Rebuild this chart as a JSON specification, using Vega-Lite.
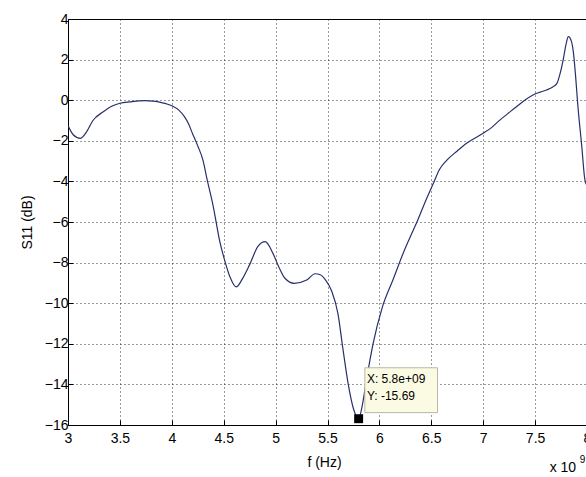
{
  "$schema": "https://vega.github.io/schema/vega-lite/v6.json",
  "width": 519,
  "height": 406,
  "autosize": "none",
  "padding": {"left": 68, "top": 19, "right": 0, "bottom": 52},
  "background": "white",
  "config": {
    "view": {"stroke": "#000", "strokeWidth": 1},
    "font": "Liberation Sans",
    "axis": {
      "labelFont": "Liberation Sans",
      "titleFont": "Liberation Sans",
      "labelFontSize": 14,
      "titleFontSize": 14,
      "titleFontWeight": "normal",
      "labelColor": "#000",
      "titleColor": "#000",
      "domainColor": "#000",
      "tickColor": "#000",
      "gridColor": "#111",
      "gridDash": [1, 3],
      "gridOpacity": 0.85,
      "gridWidth": 1
    }
  },
  "datasets": {
    "curve": [
      {"f": 3.00, "s": -1.25}, {"f": 3.05, "s": -1.70}, {"f": 3.12, "s": -1.88}, {"f": 3.18, "s": -1.55},
      {"f": 3.24, "s": -1.00}, {"f": 3.34, "s": -0.57}, {"f": 3.42, "s": -0.30}, {"f": 3.50, "s": -0.15},
      {"f": 3.60, "s": -0.08}, {"f": 3.74, "s": -0.02}, {"f": 3.82, "s": -0.05}, {"f": 3.90, "s": -0.12},
      {"f": 3.96, "s": -0.20}, {"f": 4.01, "s": -0.30}, {"f": 4.07, "s": -0.50}, {"f": 4.12, "s": -0.80},
      {"f": 4.16, "s": -1.15}, {"f": 4.20, "s": -1.65}, {"f": 4.25, "s": -2.25}, {"f": 4.30, "s": -2.95},
      {"f": 4.34, "s": -3.90}, {"f": 4.40, "s": -5.25}, {"f": 4.46, "s": -6.90}, {"f": 4.51, "s": -7.90},
      {"f": 4.56, "s": -8.70}, {"f": 4.62, "s": -9.20}, {"f": 4.68, "s": -8.80}, {"f": 4.75, "s": -8.10},
      {"f": 4.83, "s": -7.20}, {"f": 4.90, "s": -6.97}, {"f": 4.97, "s": -7.50}, {"f": 5.03, "s": -8.20},
      {"f": 5.09, "s": -8.77}, {"f": 5.18, "s": -9.02}, {"f": 5.30, "s": -8.86}, {"f": 5.38, "s": -8.55},
      {"f": 5.43, "s": -8.60}, {"f": 5.48, "s": -8.85}, {"f": 5.54, "s": -9.40}, {"f": 5.60, "s": -10.50},
      {"f": 5.65, "s": -12.30}, {"f": 5.70, "s": -14.00}, {"f": 5.75, "s": -15.20}, {"f": 5.80, "s": -15.69},
      {"f": 5.84, "s": -14.90}, {"f": 5.87, "s": -13.95}, {"f": 5.94, "s": -11.98}, {"f": 6.03, "s": -10.17},
      {"f": 6.13, "s": -8.86}, {"f": 6.24, "s": -7.40}, {"f": 6.30, "s": -6.70}, {"f": 6.37, "s": -5.90},
      {"f": 6.45, "s": -4.90}, {"f": 6.52, "s": -4.09}, {"f": 6.58, "s": -3.40}, {"f": 6.65, "s": -2.95},
      {"f": 6.75, "s": -2.50}, {"f": 6.84, "s": -2.12}, {"f": 7.00, "s": -1.63}, {"f": 7.08, "s": -1.35},
      {"f": 7.16, "s": -0.98}, {"f": 7.24, "s": -0.65}, {"f": 7.32, "s": -0.32}, {"f": 7.40, "s": 0.00},
      {"f": 7.48, "s": 0.26}, {"f": 7.55, "s": 0.40}, {"f": 7.61, "s": 0.50}, {"f": 7.67, "s": 0.65},
      {"f": 7.71, "s": 0.83}, {"f": 7.74, "s": 1.30}, {"f": 7.77, "s": 1.98}, {"f": 7.80, "s": 2.80},
      {"f": 7.82, "s": 3.13}, {"f": 7.85, "s": 2.90}, {"f": 7.87, "s": 2.31}, {"f": 7.89, "s": 1.20},
      {"f": 7.91, "s": -0.15}, {"f": 7.95, "s": -2.29}, {"f": 7.98, "s": -3.93}, {"f": 8.00, "s": -4.20}
    ],
    "tip": [{"f": 5.8, "s": -15.69, "x1": 5.86, "x2": 6.56, "y1": -13.18, "y2": -15.39}],
    "tiptext": [
      {"f": 5.88, "s": -13.95, "t": "X: 5.8e+09"},
      {"f": 5.88, "s": -14.75, "t": "Y: -15.69"}
    ],
    "exp": [
      {"f": 7.64, "s": -18.3, "t": "x 10", "size": 14},
      {"f": 7.93, "s": -17.85, "t": "9", "size": 10}
    ]
  },
  "layer": [
    {
      "data": {"name": "curve"},
      "mark": {"type": "line", "color": "#28306b", "strokeWidth": 1.2, "clip": true, "interpolate": "monotone"},
      "encoding": {
        "x": {
          "field": "f", "type": "quantitative",
          "scale": {"domain": [3, 8], "nice": false, "zero": false},
          "axis": {
            "values": [3, 3.5, 4, 4.5, 5, 5.5, 6, 6.5, 7, 7.5, 8],
            "format": "~g",
            "tickSize": -5,
            "labelPadding": 11,
            "labelFlush": false,
            "labelOverlap": false,
            "title": "f (Hz)",
            "titleX": 256,
            "titleY": 41,
            "titleBaseline": "alphabetic",
            "titleAnchor": null,
            "titleAlign": "center"
          }
        },
        "y": {
          "field": "s", "type": "quantitative",
          "scale": {"domain": [-16, 4], "nice": false, "zero": false},
          "axis": {
            "values": [-16, -14, -12, -10, -8, -6, -4, -2, 0, 2, 4],
            "tickSize": -5,
            "labelPadding": 5,
            "labelFlush": false,
            "labelOverlap": false,
            "title": "S11 (dB)",
            "titleX": -37,
            "titleY": 203,
            "titleAngle": -90,
            "titleBaseline": "alphabetic",
            "titleAlign": "center",
            "titleAnchor": null
          }
        }
      }
    },
    {
      "data": {"name": "tip"},
      "mark": {"type": "rect", "fill": "#fbfbe3", "stroke": "#b8b8a8", "strokeWidth": 1},
      "encoding": {
        "x": {"field": "x1", "type": "quantitative"},
        "x2": {"field": "x2"},
        "y": {"field": "y1", "type": "quantitative"},
        "y2": {"field": "y2"}
      }
    },
    {
      "data": {"name": "tip"},
      "mark": {"type": "square", "color": "#000", "size": 80, "opacity": 1, "filled": true},
      "encoding": {
        "x": {"field": "f", "type": "quantitative"},
        "y": {"field": "s", "type": "quantitative"}
      }
    },
    {
      "data": {"name": "tiptext"},
      "mark": {"type": "text", "align": "left", "baseline": "alphabetic", "fontSize": 12, "font": "Liberation Sans", "color": "#000"},
      "encoding": {
        "x": {"field": "f", "type": "quantitative"},
        "y": {"field": "s", "type": "quantitative"},
        "text": {"field": "t"}
      }
    },
    {
      "data": {"name": "exp"},
      "mark": {"type": "text", "align": "left", "baseline": "alphabetic", "font": "Liberation Sans", "color": "#000", "clip": false},
      "encoding": {
        "x": {"field": "f", "type": "quantitative"},
        "y": {"field": "s", "type": "quantitative"},
        "text": {"field": "t"},
        "size": {"field": "size", "type": "quantitative", "scale": null, "legend": null}
      }
    }
  ]
}
